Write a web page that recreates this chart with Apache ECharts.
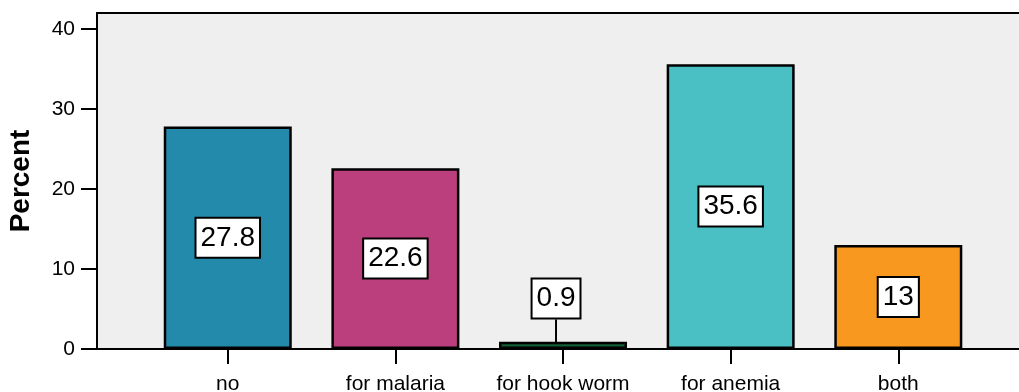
<!DOCTYPE html>
<html>
<head>
<meta charset="utf-8">
<script src="https://cdn.jsdelivr.net/npm/echarts@6/dist/echarts.min.js"></script>
<style>
  html, body { margin: 0; padding: 0; background: #ffffff; }
  #chart { width: 1019px; height: 392px; }
</style>
</head>
<body>
<div id="chart"></div>
<script>
// Categories and percentages
const categories = ['no', 'for malaria', 'for hook worm', 'for anemia', 'both'];
const percents = [27.8, 22.6, 0.9, 35.6, 13];
const barColors = ['#238aab', '#bb3f7d', '#115d34', '#4ac0c5', '#f8981f'];
const yTicks = [0, 10, 20, 30, 40];

const FONT = '"Liberation Sans", Arial, Helvetica, sans-serif';
const positions = categories.map((_, i) => i);
const blackLine = { color: '#000', width: 2 };

const chart = echarts.init(document.getElementById('chart'), null, { renderer: 'canvas' });

chart.setOption({
  animation: false,
  grid: {
    left: 97, right: 0, top: 13, bottom: 43,
    outerBoundsMode: 'none',
    containLabel: false,
    show: true,
    backgroundColor: '#efefef',
    borderWidth: 0
  },
  xAxis: [{
    type: 'value',
    min: -0.78,
    max: 4.72,
    splitLine: { show: false },
    axisLine: { show: true, onZero: false, lineStyle: blackLine },
    axisTick: { show: true, customValues: positions, length: 15, lineStyle: blackLine },
    axisLabel: {
      show: true,
      customValues: positions,
      formatter: v => categories[Math.round(v)] || '',
      margin: 25,
      fontSize: 21,
      color: '#000',
      fontFamily: FONT
    }
  }, {
    // top frame line of the plot area
    type: 'value',
    position: 'top',
    min: -0.78,
    max: 4.72,
    splitLine: { show: false },
    axisLine: { show: true, onZero: false, lineStyle: blackLine },
    axisTick: { show: false },
    axisLabel: { show: false }
  }],
  yAxis: {
    type: 'value',
    min: 0,
    max: 42,
    interval: 10,
    name: 'Percent',
    nameLocation: 'middle',
    nameGap: 62,
    nameTextStyle: { fontSize: 28, fontWeight: 'bold', color: '#000', fontFamily: FONT },
    splitLine: { show: false },
    axisLine: { show: true, onZero: false, lineStyle: blackLine },
    axisTick: { show: true, customValues: yTicks, length: 16, lineStyle: blackLine },
    axisLabel: {
      customValues: yTicks,
      margin: 22,
      fontSize: 21,
      color: '#000',
      fontFamily: FONT
    }
  },
  series: [{
    type: 'bar',
    xAxisIndex: 0,
    barWidth: 128,
    data: percents.map((v, i) => ({
      value: [i, v],
      itemStyle: { color: barColors[i] }
    })),
    itemStyle: { borderColor: '#000', borderWidth: 2.5 },
    label: {
      show: true,
      position: 'inside',
      formatter: p => String(p.value[1]),
      fontSize: 28,
      color: '#000',
      fontFamily: FONT,
      backgroundColor: '#fff',
      borderColor: '#000',
      borderWidth: 2,
      padding: [4, 4, 2, 4],
      lineHeight: 32
    },
    labelLine: {
      show: true,
      lineStyle: blackLine
    },
    labelLayout: p => p.dataIndex === 2 ? { dx: -7, dy: -47 } : {}
  }]
});
</script>
</body>
</html>
